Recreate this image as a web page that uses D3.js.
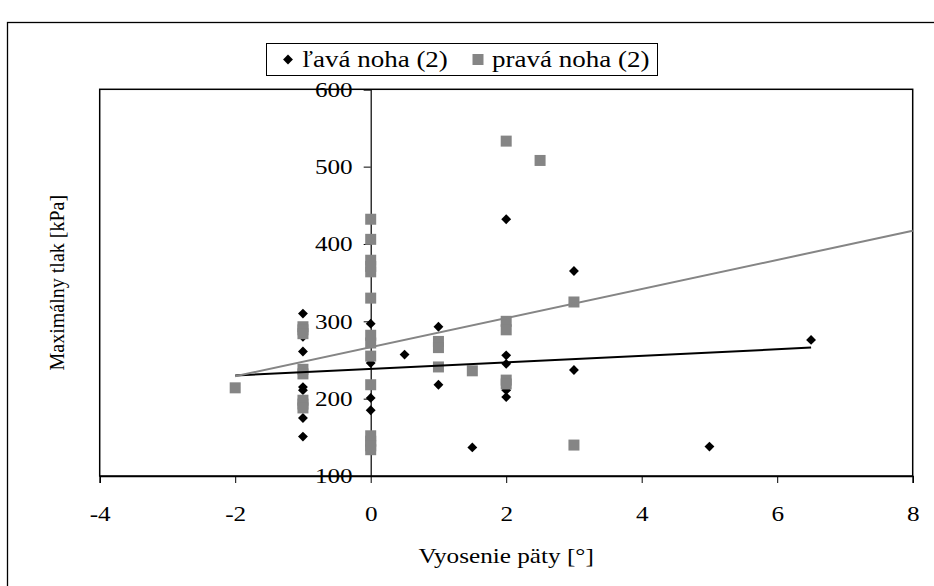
<!DOCTYPE html>
<html>
<head>
<meta charset="utf-8">
<script src="https://d3js.org/d3.v7.min.js"></script>
<style>
    body { margin: 0; background: #fff; }
</style>
</head>
<body>
<svg id="chart" width="934" height="586"></svg>
<script>
// ľavá noha (2) - black diamonds
const lavaX = [-2, -1, -1, -1, -1, -1, -1, -1, -1, 0, 0, 0, 0, 0, 0.5, 1, 1, 1.5, 2, 2, 2, 2, 2, 3, 3, 5, 6.5];
const lavaY = [214, 310, 280, 261, 237, 215, 211, 175, 151, 297, 246, 201, 185, 150, 257, 293, 218, 137, 432, 256, 245, 211, 202, 365, 237, 138, 276];

// pravá noha (2) - grey squares
const pravaX = [-2, -1, -1, -1, -1, -1, -1, -1, -1, 0, 0, 0, 0, 0, 0, 0, 0, 0, 0, 0, 0, 0, 0, 1, 1, 1, 1.5, 2, 2, 2, 2, 2, 2.5, 3, 3];
const pravaY = [214, 293, 289, 284, 238, 232, 198, 193, 188, 432, 406, 379, 371, 364, 330, 282, 272, 255, 218, 152, 145, 139, 134, 274, 266, 241, 236, 533, 300, 289, 224, 219, 508, 325, 140];

// trend lines (end points)
const lavaTrend = [[-2, 230], [6.5, 266]];
const pravaTrend = [[-2, 229], [8, 417]];

const xTicks = [-4, -2, 0, 2, 4, 6, 8];
const yTicks = [100, 200, 300, 400, 500, 600];
const seriesNames = ["ľavá noha (2)", "pravá noha (2)"];

const grey = "#858585";
const font = '"Liberation Serif", "Times New Roman", serif';
const stretch = 1.2; // text in the picture is a bit wider than it is tall

const svg = d3.select("#chart");

const plot = { left: 99.7, right: 912.7, top: 89.3, bottom: 476 };

const x = d3.scaleLinear().domain([-4, 8]).range([plot.left, plot.right]);
const y = d3.scaleLinear().domain([100, 600]).range([plot.bottom, plot.top]);

function serif(sel, size) {
    sel.style("font-family", font).style("font-size", size + "px").attr("fill", "#000");
}

// outer frame
svg.append("rect")
    .attr("x", 7.5).attr("y", 22.5)
    .attr("width", 1000).attr("height", 1000)
    .attr("fill", "none").attr("stroke", "#000").attr("stroke-width", 1.3);

// plot area border
svg.append("rect")
    .attr("x", plot.left).attr("y", plot.top)
    .attr("width", plot.right - plot.left).attr("height", plot.bottom - plot.top)
    .attr("fill", "none").attr("stroke", "#000").attr("stroke-width", 1.5);

// x axis at the bottom
const xAxis = svg.append("g")
    .attr("transform", "translate(0," + plot.bottom + ")")
    .call(d3.axisBottom(x).tickValues(xTicks).tickSize(7).tickPadding(23).tickFormat(d3.format("d")));
xAxis.select(".domain").attr("stroke", "#000").attr("stroke-width", 1.5);
xAxis.selectAll(".tick line").attr("stroke", "#000").attr("stroke-width", 1);
xAxis.selectAll(".tick text")
    .call(serif, 21)
    .attr("transform", "scale(" + stretch + ",1)")
    .text(function(d) { return d < 0 ? "-" + Math.abs(d) : d; });

// y axis crossing at x = 0
const yAxis = svg.append("g")
    .attr("transform", "translate(" + x(0) + ",0)")
    .call(d3.axisLeft(y).tickValues(yTicks).tickSize(7).tickPadding(11));
yAxis.select(".domain").attr("stroke", "#000").attr("stroke-width", 1.2);
yAxis.selectAll(".tick line").attr("stroke", "#000").attr("stroke-width", 1);
yAxis.selectAll(".tick text")
    .call(serif, 21)
    .attr("x", 0)
    .attr("transform", "translate(-18,0) scale(" + stretch + ",1)");

// markers
const diamond = d3.symbol().type(d3.symbolDiamond2).size(62);

svg.append("g").selectAll("path")
    .data(lavaX.map(function(v, i) { return [v, lavaY[i]]; }))
    .enter().append("path")
    .attr("d", diamond)
    .attr("transform", function(d) { return "translate(" + x(d[0]) + "," + y(d[1]) + ")"; })
    .attr("fill", "#000");

svg.append("g").selectAll("rect")
    .data(pravaX.map(function(v, i) { return [v, pravaY[i]]; }))
    .enter().append("rect")
    .attr("x", function(d) { return x(d[0]) - 5.5; })
    .attr("y", function(d) { return y(d[1]) - 5.5; })
    .attr("width", 11).attr("height", 11)
    .attr("fill", grey);

// trend lines
const line = d3.line().x(function(d) { return x(d[0]); }).y(function(d) { return y(d[1]); });

svg.append("path").datum(lavaTrend)
    .attr("d", line).attr("fill", "none").attr("stroke", "#000").attr("stroke-width", 2);
svg.append("path").datum(pravaTrend)
    .attr("d", line).attr("fill", "none").attr("stroke", grey).attr("stroke-width", 2);

// axis titles
svg.append("text")
    .attr("transform", "translate(" + x(2) + ",563) scale(" + stretch + ",1)")
    .attr("text-anchor", "middle")
    .call(serif, 21)
    .text("Vyosenie päty [°]");

svg.append("text")
    .attr("transform", "translate(64," + ((plot.top + plot.bottom) / 2) + ") rotate(-90)")
    .attr("text-anchor", "middle")
    .call(serif, 20)
    .text("Maximálny tlak [kPa]");

// legend
const legend = svg.append("g").attr("transform", "translate(0,43)");
legend.append("rect")
    .attr("x", 266.5).attr("y", 0.5).attr("width", 391).attr("height", 32)
    .attr("fill", "#fff").attr("stroke", "#000").attr("stroke-width", 1);

legend.append("path")
    .attr("d", diamond)
    .attr("transform", "translate(288,16.5)")
    .attr("fill", "#000");
legend.append("text")
    .attr("transform", "translate(302,24) scale(" + stretch + ",1)")
    .call(serif, 22.5)
    .text(seriesNames[0]);

legend.append("rect")
    .attr("x", 472.5).attr("y", 11).attr("width", 11).attr("height", 11)
    .attr("fill", grey);
legend.append("text")
    .attr("transform", "translate(492,24) scale(" + stretch + ",1)")
    .call(serif, 22.5)
    .text(seriesNames[1]);
</script>
</body>
</html>
